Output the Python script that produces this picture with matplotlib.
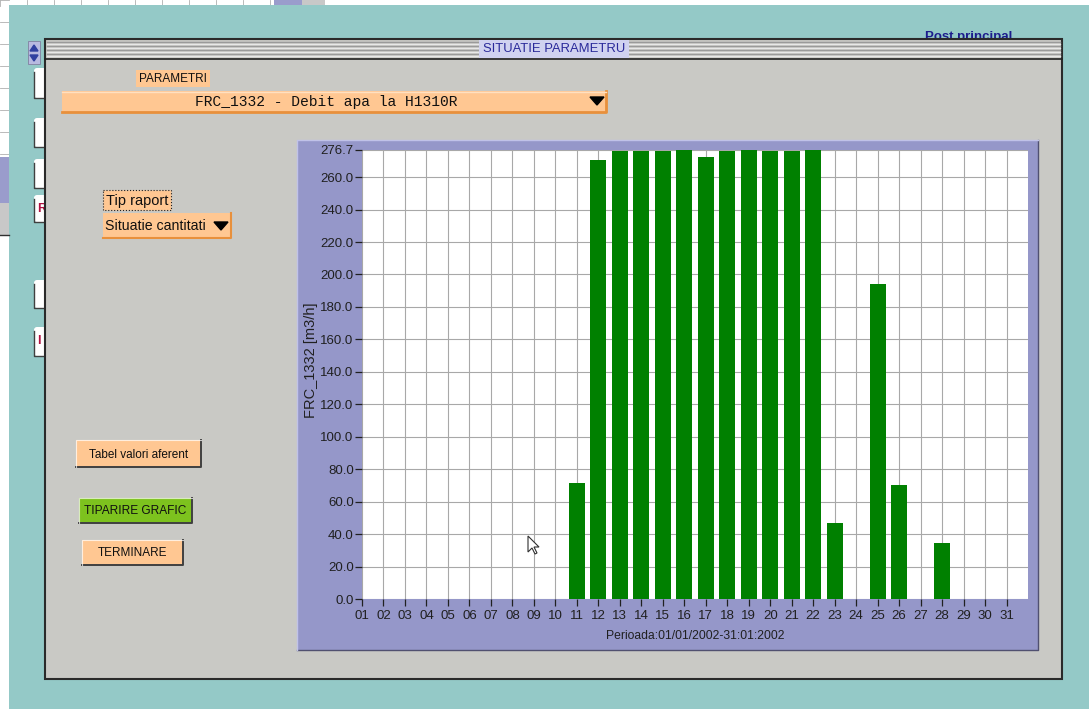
import matplotlib
matplotlib.use('Agg')
import matplotlib.pyplot as plt
from matplotlib.patches import Rectangle, FancyBboxPatch, Polygon

# chart data
days = list(range(1, 32))
day_labels = ['%02d' % d for d in days]
debit = [0, 0, 0, 0, 0, 0, 0, 0, 0, 0,
         71.5, 270.5, 276.0, 276.0, 276.0, 276.7, 272.3, 276.0, 276.5, 276.0,
         276.0, 276.7, 46.7, 0, 194.0, 70.0, 0, 34.4, 0, 0, 0]
y_ticks = [0, 20, 40, 60, 80, 100, 120, 140, 160, 180, 200, 220, 240, 260, 276.7]
y_max = 276.7

param_text = 'FRC_1332 - Debit apa la H1310R'
y_label = 'FRC_1332 [m3/h]'
x_label = 'Perioada:01/01/2002-31:01:2002'

# colours
TEAL = '#94c9c7'
GREY = '#c9c9c5'
PURPLE = '#9597c9'
ORANGE = '#ffc792'
ORANGE_DK = '#e8903c'
GREEN_BTN = '#7dc21e'
BAR_GREEN = '#008000'
NAVY = '#1c1c8c'

W, H = 1089, 709
plt.rcParams['font.family'] = ['Liberation Sans', 'DejaVu Sans']
fig = plt.figure(figsize=(W / 100, H / 100), dpi=100)

# background "desktop" drawn in pixel coordinates
bg = fig.add_axes([0, 0, 1, 1])
bg.set_xlim(0, W)
bg.set_ylim(H, 0)
bg.axis('off')


def rect(x0, y0, x1, y1, fc, ec='none', lw=0, z=1, **kw):
    bg.add_patch(Rectangle((x0, y0), x1 - x0, y1 - y0, facecolor=fc,
                           edgecolor=ec, linewidth=lw, zorder=z, **kw))


def button(x0, y0, x1, y1, fc, label, fs=8.5):
    rect(x0, y0, x1, y1, fc, z=3)
    bg.plot([x0, x1, x1], [y1, y1, y0], color='#404040', lw=1.4, zorder=4)
    bg.plot([x0, x0, x1], [y1, y0, y0], color='#ffffff', lw=0.8, alpha=0.7, zorder=4)
    bg.text((x0 + x1) / 2, (y0 + y1) / 2 + 1, label, ha='center', va='center',
            fontsize=fs, color='#101010', zorder=5)


# white spreadsheet behind everything
rect(0, 0, W, H, 'white', z=0)
for gx in range(0, 300, 27):
    bg.plot([gx, gx], [0, 6], color='#b0b0b0', lw=0.6, zorder=0.5)
for gy in range(0, 160, 22):
    bg.plot([0, 9], [gy, gy], color='#b0b0b0', lw=0.6, zorder=0.5)
rect(274, 0, 302, 6, '#9a9ccc', z=0.6)
rect(302, 0, 325, 6, '#c8c8c8', z=0.6)

# teal window
rect(9, 5, W, H, TEAL, z=1)
rect(0, 157, 9, 203, '#9a9ccc', z=1.1)
rect(0, 203, 9, 235, '#c8c8c8', z=1.1)
bg.plot([0, 9], [235, 235], color='#303030', lw=1, zorder=1.2)
rect(0, 270, 9, H, 'white', z=1.1)

# white tabs sticking out on the left
for (ty0, ty1, tl) in [(68, 98, ''), (118, 147, ''), (159, 188, ''),
                       (195, 222, 'R'), (280, 308, ''), (327, 356, 'I')]:
    bg.add_patch(FancyBboxPatch((34, ty0), 16, ty1 - ty0, boxstyle='round,pad=0,rounding_size=3',
                                facecolor='white', edgecolor='none', zorder=1.5))
    bg.plot([34, 34, 46], [ty0 + 4, ty1, ty1], color='#404040', lw=1, zorder=1.6)
    if tl:
        bg.text(37, (ty0 + ty1) / 2, tl, ha='left', va='center', fontsize=9,
                fontweight='bold', color='#b01040', zorder=1.7)

# spinner
rect(28, 41, 40, 64, '#b8bae0', ec='#8080a0', lw=0.6, z=1.5)
bg.add_patch(Polygon([(30, 51), (38, 51), (34, 45)], color='#3040a0', zorder=1.6))
bg.add_patch(Polygon([(30, 55), (38, 55), (34, 61)], color='#3040a0', zorder=1.6))

bg.text(969, 37, 'Post principal', ha='center', va='center', fontsize=9.5,
        fontweight='bold', color=NAVY, zorder=1.5)

# main window
rect(45, 39, 1062, 679, GREY, ec='#2a2a2a', lw=1.5, z=2)
for i, sy in enumerate(range(42, 58, 2)):
    c = '#9a9a9a' if i % 2 == 0 else '#e8e8e8'
    bg.plot([47, 1060], [sy, sy], color=c, lw=1, zorder=2.1)
bg.plot([45, 1062], [59, 59], color='#202020', lw=1.2, zorder=2.2)
rect(479, 40, 629, 58, '#d0d2f0', z=2.3)
bg.text(554, 49.5, 'SITUATIE PARAMETRU', ha='center', va='center', fontsize=9.4,
        color='#2a2a9a', zorder=2.4)

# parameter selector
rect(136, 70, 210, 87, ORANGE, z=3)
bg.text(173, 79, 'PARAMETRI', ha='center', va='center', fontsize=8.5, color='#101010', zorder=4)
rect(62, 91, 606, 112, ORANGE, z=3)
bg.plot([62, 606, 606], [112, 112, 91], color=ORANGE_DK, lw=2, zorder=4)
bg.plot([62, 606], [91.5, 91.5], color='#ffe0c0', lw=1, zorder=4)
bg.text(326, 102, param_text, ha='center', va='center', fontsize=10.5,
        family='Liberation Mono', color='#101010', zorder=4)
bg.add_patch(Polygon([(590, 97), (604, 97), (597, 105)], color='black', zorder=4))

# report type
rect(103, 190, 171, 210, ORANGE, ec='#202020', lw=0.8, z=3, linestyle=':')
bg.text(137, 200.5, 'Tip raport', ha='center', va='center', fontsize=10.5, color='#101010', zorder=4)
rect(103, 213, 231, 238, ORANGE, z=3)
bg.plot([103, 231, 231], [238, 238, 213], color=ORANGE_DK, lw=1.5, zorder=4)
bg.text(105, 226, 'Situatie cantitati', ha='left', va='center', fontsize=10.2, color='#101010', zorder=4)
bg.add_patch(Polygon([(214, 222), (228, 222), (221, 230)], color='black', zorder=4))

# buttons
button(76, 440, 201, 467, ORANGE, 'Tabel valori aferent', fs=8.5)
button(79, 498, 192, 523, GREEN_BTN, 'TIPARIRE GRAFIC', fs=8.6)
button(82, 540, 183, 565, ORANGE, 'TERMINARE', fs=8.5)

# chart panel
rect(297, 140, 1038, 650, PURPLE, z=3)
bg.plot([297, 1038, 1038], [650, 650, 140], color='#505070', lw=1, zorder=3.1)
bg.plot([297, 297, 1038], [650, 140, 140], color='#c0c2e8', lw=1, zorder=3.1)

# the bar chart itself
ax = fig.add_axes([362 / W, (H - 599) / H, (1028 - 362) / W, (599 - 150) / H])
ax.set_facecolor('white')
ax.bar(days, debit, width=0.74, color=BAR_GREEN, zorder=3)
ax.set_xlim(1, 32)
ax.set_ylim(0, y_max)
ax.set_xticks(days)
ax.set_xticklabels(day_labels)
ax.set_yticks(y_ticks)
ax.set_yticklabels(['%.1f' % v for v in y_ticks])
ax.grid(True, color='#a8a8a8', lw=0.8, zorder=0)
ax.set_axisbelow(True)
for s in ax.spines.values():
    s.set_visible(False)
ax.tick_params(axis='both', length=5, width=0.9, color='#202020', labelsize=9.5,
               labelcolor='#202020', pad=1)
ax.tick_params(axis='x', pad=3)
ax.set_ylabel(y_label, fontsize=10.5, color='#202020')
ax.yaxis.set_label_coords(-0.066, 0.532)
ax.set_xlabel(x_label, fontsize=8.7, color='#202020')
ax.xaxis.set_label_coords(0.5, -0.068)

# mouse pointer on top of the chart panel
top = fig.add_axes([0, 0, 1, 1], facecolor='none')
top.set_xlim(0, W)
top.set_ylim(H, 0)
top.axis('off')
cx, cy = 528, 536
top.add_patch(Polygon([(cx, cy), (cx, cy + 16), (cx + 4, cy + 12), (cx + 7, cy + 18),
                       (cx + 9, cy + 17), (cx + 6, cy + 11), (cx + 11, cy + 11)],
                      facecolor='white', edgecolor='#303030', lw=0.8))

fig.savefig('out.png', dpi=100)
